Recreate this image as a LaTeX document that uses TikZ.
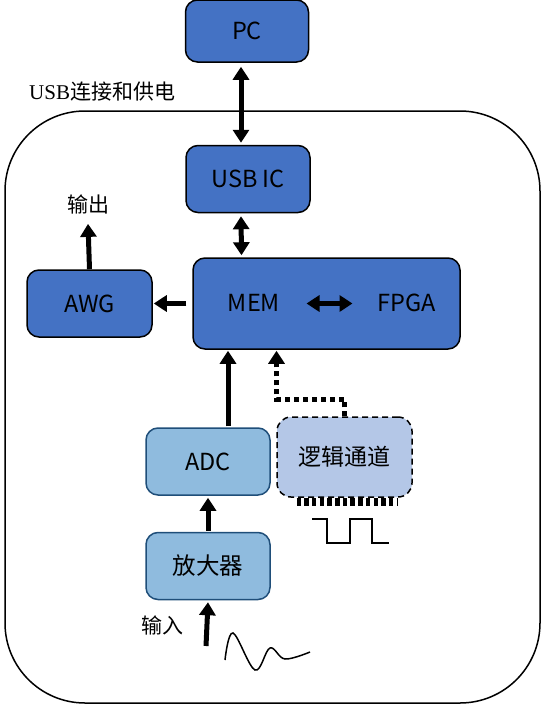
\documentclass[tikz,border=0pt]{standalone}
\usepackage{fontspec}
\setmainfont{Noto Sans CJK SC}
\newfontfamily\serifl{Liberation Serif}
\usetikzlibrary{arrows.meta}
\definecolor{darkblock}{HTML}{4472C4}
\definecolor{lightblock}{HTML}{8FBBDE}
\definecolor{lightedge}{HTML}{1F4E79}
\definecolor{logicfill}{HTML}{B4C7E7}
\tikzset{
    block/.style={draw=black, line width=1.5pt, fill=darkblock, rounded corners=12pt, inner sep=0pt, font=\fontsize{23.5}{27}\selectfont},
    ablock/.style={draw=lightedge, line width=1.5pt, fill=lightblock, rounded corners=12pt, inner sep=0pt, minimum width=124pt, minimum height=67pt, font=\fontsize{23.5}{27}\selectfont},
    logicbox/.style={draw=black, line width=1.5pt, dash pattern=on 6pt off 4pt, fill=logicfill, rounded corners=14pt, inner sep=0pt, minimum width=135pt, minimum height=80pt, font=\fontsize{23}{27}\selectfont},
    lbl/.style={inner sep=0pt, font=\fontsize{21}{25}\selectfont},
    bus/.style={line width=5pt, -{Triangle[width=16pt,length=13pt]}},
    dbus/.style={line width=5pt, {Triangle[width=16pt,length=13pt]}-{Triangle[width=16pt,length=13pt]}},
    dotbus/.style={line width=5pt, dash pattern=on 5pt off 4pt, -{Triangle[width=16pt,length=13pt]}}
}
\begin{document}
\begin{tikzpicture}[x=1pt,y=-1pt]
                    \useasboundingbox (0,0) rectangle (545,707);

                    \draw[line width=1.5pt, rounded corners=80pt] (5,111) rectangle (540,703);
                    \node[lbl, anchor=west] (usblbl) at (29,92) {{\serifl USB}连接和供电};

                    \node[block, minimum width=123pt, minimum height=62pt] (pc) at (247,31) {PC};
                    \node[block, minimum width=124pt, minimum height=67pt] (usbic) at (248,179) {USB IC};
                    \node[block, minimum width=267pt, minimum height=91pt] (fpga) at (326.5,303.5) {};
                    \node[inner sep=0pt, font=\fontsize{23.5}{27}\selectfont] (mem) at (254,303) {MEM};
                    \node[inner sep=0pt, font=\fontsize{23.5}{27}\selectfont] (fpgalbl) at (407,303) {FPGA};
                    \node[block, minimum width=125pt, minimum height=67pt] (awg) at (89.5,303.5) {AWG};
                    \node[lbl] (out) at (88,204) {输出};

                    \node[ablock] (adc) at (208,461.5) {ADC};
                    \node[ablock] (amp) at (208,566) {放大器};
                    \node[logicbox] (logic) at (344.5,457) {逻辑通道};
                    \node[lbl] (in) at (162,625) {输入};
                    \coordinate (src) at (206,646);

                    \draw[dbus] ([xshift=-6pt,yshift=-4pt]pc.south) -- ([xshift=-7pt,yshift=2pt]usbic.north);
                    \draw[dbus] ([xshift=-7pt,yshift=-3pt]usbic.south) -- ([xshift=-85pt,yshift=2pt]fpga.north);
                    \draw[dbus] ([xshift=-20pt]fpga.center) -- ([xshift=26pt]fpga.center);
                    \draw[bus] ([xshift=-6pt]fpga.west) -- ([xshift=1pt]awg.east);
                    \draw[bus] (awg.north) -- ([yshift=-10pt]out.south);
                    \draw[bus] ([xshift=20pt,yshift=1pt]adc.north) -- ([xshift=20pt,yshift=-1pt]adc.north |- fpga.south);
                    \draw[bus] ([yshift=1pt]amp.north) -- ([yshift=-2pt]adc.south);
                    \draw[bus] (src) -- ([yshift=-2pt]amp.south);
                    \draw[dotbus] (logic.north) -- ++(0,-17) -| ([xshift=-50pt,yshift=-1pt]fpga.south);

                    \draw[line width=8pt, dash pattern=on 4.5pt off 3.2pt] ([xshift=-48pt,yshift=-4pt]logic.south) -- ([xshift=53pt,yshift=-4pt]logic.south);
                    \draw[line width=2pt] (312,519) -- (327,519) -- (327,543) -- (350,543) -- (350,519) -- (372,519) -- (372,543) -- (389,543);
                    \draw[line width=1.5pt] plot[smooth, tension=0.6] coordinates {(225,660) (233,633) (255,670) (270,648) (285,659) (310,652)};
                \end{tikzpicture}
\end{document}
